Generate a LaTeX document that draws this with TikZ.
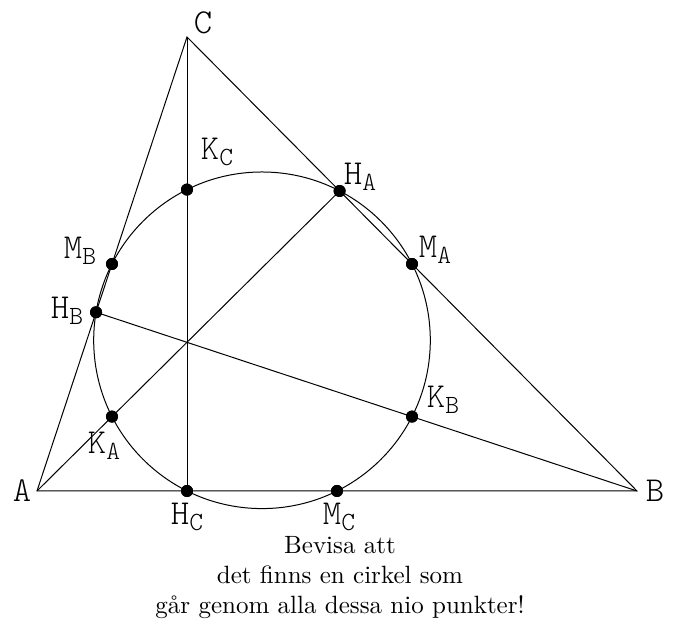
\documentclass[tikz,border=0pt]{standalone}
\usepackage{tikz}
\usetikzlibrary{positioning}

\newcommand{\ptlabel}[2]{#1\raisebox{-0.4ex}{\fontsize{10.5}{11}\selectfont #2}}

\begin{document}
\begin{tikzpicture}[x=0.4pt, y=0.4pt, line width=0.4pt,
    dot/.style={circle, fill=black, inner sep=0pt, minimum size=4.8pt},
    lbl/.style={font=\fontsize{14}{16}\fontseries{l}\ttfamily\selectfont, inner sep=0pt}]
  \useasboundingbox (-37,-139) rectangle (636,491);

  % ---- Triangle vertices ----
  \coordinate (A) at (0,0);
  \coordinate (B) at (600,0);
  \coordinate (C) at (150,454);
  \coordinate (N) at (225,150.7); % centre of the circle

  % ---- The nine points ----
  \node[dot] (HC) at (150,0) {};
  \node[dot] (HA) at (302.6,300) {};
  \node[dot] (HB) at (59.05,178.7) {};
  \node[dot] (KC) at (150,301.4) {};
  \node[dot] (KA) at (75,74.4) {};
  \node[dot] (KB) at (375,74.4) {};
  \node[dot] (MA) at (375,227) {};
  \node[dot] (MB) at (75,227) {};
  \node[dot] (MC) at (300,0) {};

  % ---- Triangle and altitudes ----
  \draw (A) -- (B) -- (C) -- cycle;
  \draw (C) -- (HC.center);
  \draw (A) -- (HA.center);
  \draw (B) -- (HB.center);

  % ---- Circle ----
  \draw (N) circle (168.3);

  % redraw dots on top
  \foreach \p in {HA,HB,HC,KA,KB,KC,MA,MB,MC}
    \fill (\p.center) circle (6);

  % ---- Labels ----
  \node[lbl] (lA) at (-15,0) {A};
  \node[lbl] (lB) at (618,0) {B};
  \node[lbl] (lC) at (166,468) {C};
  \node[lbl] (lKC) at (180,339) {\ptlabel{K}{C}};
  \node[lbl] (lHA) at (323,314) {\ptlabel{H}{A}};
  \node[lbl] (lMA) at (398,241) {\ptlabel{M}{A}};
  \node[lbl] (lMB) at (43,240) {\ptlabel{M}{B}};
  \node[lbl] (lHB) at (30,180) {\ptlabel{H}{B}};
  \node[lbl] (lKB) at (406,91) {\ptlabel{K}{B}};
  \node[lbl] (lKA) at (67,45) {\ptlabel{K}{A}};
  \node[lbl] (lHC) at (150,-26) {\ptlabel{H}{C}};
  \node[lbl] (lMC) at (302,-26) {\ptlabel{M}{C}};

  % ---- Text ----
  \node[align=center, font=\fontsize{10}{12}\selectfont] (task) at (303,-87)
    {Bevisa att\\det finns en cirkel som\\går genom alla dessa nio punkter!};
\end{tikzpicture}
\end{document}
